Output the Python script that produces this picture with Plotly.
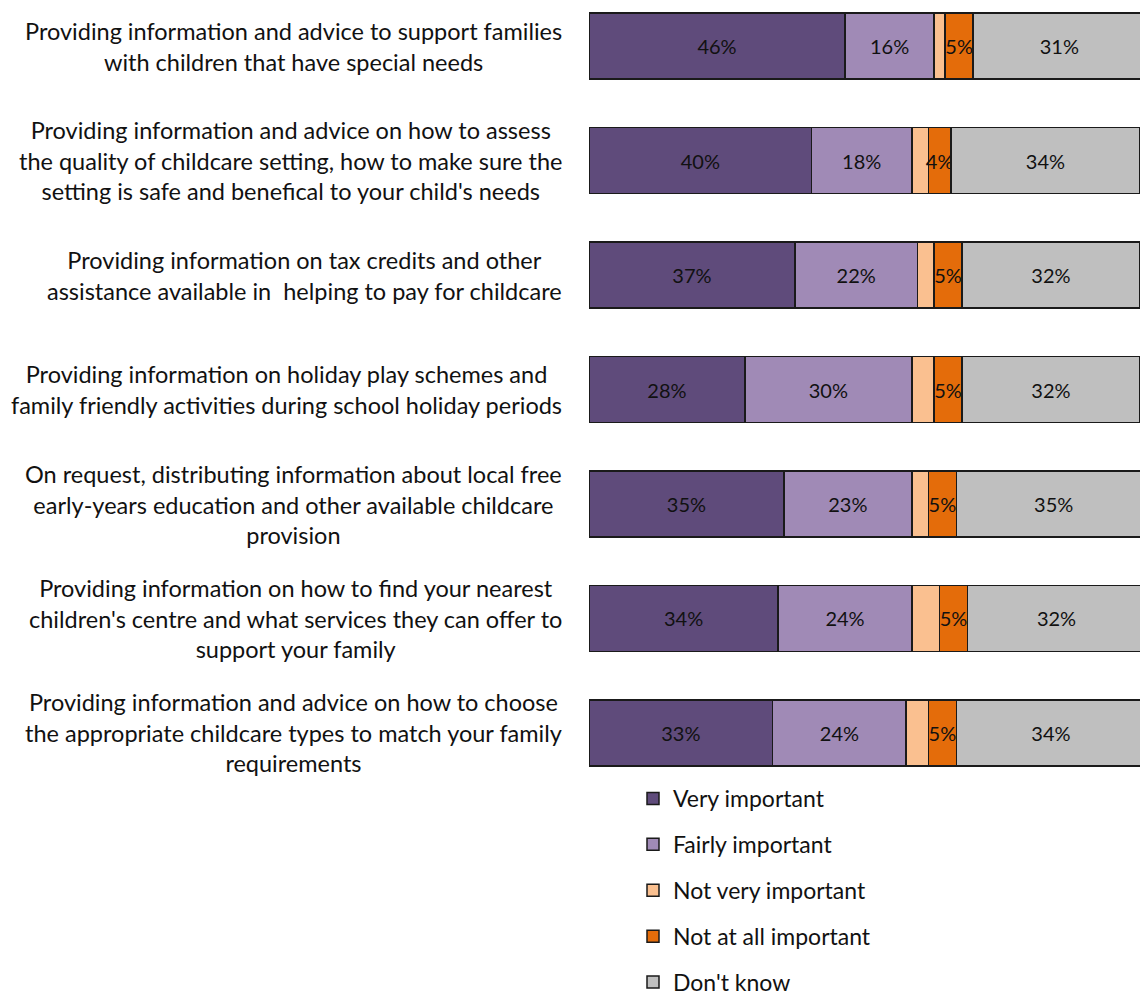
import plotly.graph_objects as go

categories = [
    "Providing information and advice to support families<br>with children that have special needs",
    "Providing information and advice on how to assess<br>the quality of childcare setting, how to make sure the<br>setting is safe and benefical to your child's needs",
    "Providing information on tax credits and other<br>assistance available in  helping to pay for childcare",
    "Providing information on holiday play schemes and<br>family friendly activities during school holiday periods",
    "On request, distributing information about local free<br>early-years education and other available childcare<br>provision",
    "Providing information on how to find your nearest<br>children's centre and what services they can offer to<br>support your family",
    "Providing information and advice on how to choose<br>the appropriate childcare types to match your family<br>requirements",
]

series_names = ["Very important", "Fairly important", "Not very important",
                "Not at all important", "Don't know"]

very_important = [46, 40, 37, 28, 35, 34, 33]
fairly_important = [16, 18, 22, 30, 23, 24, 24]
not_very_important = [2, 3, 3, 4, 3, 5, 4]
not_at_all_important = [5, 4, 5, 5, 5, 5, 5]
dont_know = [31, 34, 32, 32, 35, 32, 34]

series_values = [very_important, fairly_important, not_very_important,
                 not_at_all_important, dont_know]
series_colors = ["#5F4B7B", "#A08AB6", "#FAC090", "#E46C0A", "#BFBFBF"]
show_labels = [True, True, False, True, True]

FONT = "Lato, 'Open Sans', sans-serif"
W, H = 1140, 1000
ML, MR, MT, MB = 589, 0, 0, 210

fig = go.Figure()
ypos = list(range(len(categories)))
for i, (name, vals, col, lab) in enumerate(zip(series_names, series_values,
                                                 series_colors, show_labels)):
    fig.add_trace(go.Bar(
        y=ypos, x=vals, name=name, orientation="h",
        marker=dict(color=col, line=dict(color="#1a1a1a", width=1.5)),
        text=[f"{v}%" for v in vals] if lab else None,
        textposition="inside" if lab else "none",
        insidetextanchor="middle",
        constraintext="none",
        textangle=0,
        textfont=dict(family=FONT, size=20, color="#111111"),
        legendgroup=name,
        hoverinfo="skip",
    ))

plot_w = W - ML - MR
plot_h = H - MB - MT
for i, cat in enumerate(categories):
    fig.add_annotation(
        x=(564 - ML) / plot_w, xref="paper", xanchor="right",
        y=i, yref="y", yanchor="middle",
        text=cat, align="center", showarrow=False,
        font=dict(family=FONT, size=23.5, color="#111111"),
    )

fig.update_layout(
    width=W, height=H,
    margin=dict(l=ML, r=MR, t=MT, b=MB, pad=0, autoexpand=False),
    barmode="stack", bargap=0.42,
    paper_bgcolor="white", plot_bgcolor="white",
    xaxis=dict(range=[0, 99], visible=False, fixedrange=True),
    yaxis=dict(range=[6.498, -0.402], visible=False, fixedrange=True),
    showlegend=True,
    legend=dict(
        x=(633 - ML) / plot_w, xanchor="left",
        y=(plot_h - 777) / plot_h, yanchor="top",
        orientation="v", traceorder="grouped", tracegroupgap=13,
        font=dict(family=FONT, size=23, color="#111111"),
        bgcolor="rgba(0,0,0,0)", itemclick=False, itemdoubleclick=False,
    ),
)

fig.write_html("out.html")
